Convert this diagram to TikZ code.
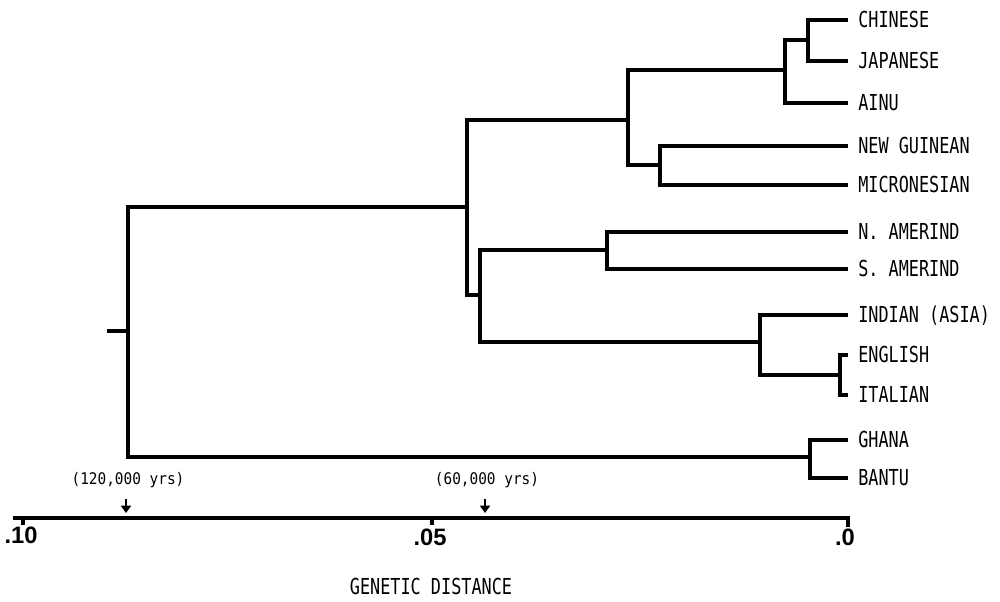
\documentclass[tikz,border=0pt]{standalone}
\usepackage{fontspec}
\usetikzlibrary{arrows.meta}
\newfontfamily\leaffont[FakeStretch=0.765]{DejaVu Sans Mono}
\newfontfamily\notefont[FakeStretch=0.9]{DejaVu Sans Mono}
\newfontfamily\tickfont{Liberation Sans}

\begin{document}
\begin{tikzpicture}[x=0.75pt,y=-0.75pt,
  branch/.style={line width=3.3pt},
  axisline/.style={line width=3.3pt},
  datearrow/.style={line width=2pt,-{Triangle[length=5.5pt,width=7.5pt]}},
  taxon/.style={anchor=base west,inner sep=0pt,
    font={\leaffont\fontsize{16.5}{18}\selectfont}},
  caption/.style={inner sep=0pt,font={\leaffont\fontsize{16.5}{18}\selectfont}},
  note/.style={inner sep=0pt,font={\notefont\fontsize{12}{14}\selectfont}},
  ticklabel/.style={inner sep=0pt,font={\tickfont\bfseries\fontsize{17.8}{20}\selectfont}}]

\useasboundingbox (0,0) rectangle (1000,601);

% ---- leaf tips and taxon labels ----
\foreach \nm/\yy/\txt in {
  chinese/20/CHINESE, japanese/61/JAPANESE, ainu/103/AINU,
  newguinean/146/NEW GUINEAN, micronesian/185/MICRONESIAN,
  namerind/232/{N. AMERIND}, samerind/269/{S. AMERIND},
  indian/315/INDIAN (ASIA), english/355/ENGLISH, italian/395/ITALIAN,
  ghana/440/GHANA, bantu/478/BANTU}{
  \coordinate (t-\nm) at (848,\yy);
  \node[taxon] (l-\nm) at (858,\yy+7) {\txt};
}

% ---- internal nodes (x = distance, y = where the parent line joins) ----
\coordinate (cj)    at (808,40);
\coordinate (cja)   at (785,70);
\coordinate (ngm)   at (660,165);
\coordinate (ocean) at (628,120);
\coordinate (ns)    at (607,250);
\coordinate (ei)    at (840,375);
\coordinate (iei)   at (760,342);
\coordinate (amr)   at (480,295);
\coordinate (nonaf) at (467,207);
\coordinate (gb)    at (810,457);
\coordinate (root)  at (128,331);
\coordinate (stub)  at (107,331);

% ---- branches ----
\draw[branch] (cj) |- (t-chinese);
\draw[branch] (cj) |- (t-japanese);
\draw[branch] (cja) |- (cj);
\draw[branch] (cja) |- (t-ainu);
\draw[branch] (ngm) |- (t-newguinean);
\draw[branch] (ngm) |- (t-micronesian);
\draw[branch] (ocean) |- (cja);
\draw[branch] (ocean) |- (ngm);
\draw[branch] (ns) |- (t-namerind);
\draw[branch] (ns) |- (t-samerind);
\draw[branch] (ei) |- (t-english);
\draw[branch] (ei) |- (t-italian);
\draw[branch] (iei) |- (t-indian);
\draw[branch] (iei) |- (ei);
\draw[branch] (amr) |- (ns);
\draw[branch] (amr) |- (iei);
\draw[branch] (nonaf) |- (ocean);
\draw[branch] (nonaf) |- (amr);
\draw[branch] (gb) |- (t-ghana);
\draw[branch] (gb) |- (t-bantu);
\draw[branch] (root) |- (nonaf);
\draw[branch] (root) |- (gb);
\draw[branch] (stub) -- (root);

% ---- distance axis ----
\coordinate (axL) at (13,518);
\coordinate (axR) at (848,518);
\coordinate (axRend) at (848,527);
\coordinate (tk10) at (23,518);
\coordinate (tk10end) at (23,525);
\coordinate (tk05) at (432,518);
\coordinate (tk05end) at (432,525);
\draw[axisline] (axL) -- (axR) -- (axRend);
\draw[axisline] (tk10) -- (tk10end);
\draw[axisline] (tk05) -- (tk05end);

\node[ticklabel] (lab10) at (21,535) {.10};
\node[ticklabel] (lab05) at (430,537) {.05};
\node[ticklabel] (lab00) at (845,537) {.0};

% ---- dates marked on the axis ----
\node[note] (d120) at (128,480) {(120,000 yrs)};
\node[note] (d60)  at (487,480) {(60,000 yrs)};
\coordinate (a120s) at (126,499);
\coordinate (a120e) at (126,513);
\coordinate (a60s)  at (485,499);
\coordinate (a60e)  at (485,513);
\draw[datearrow] (a120s) -- (a120e);
\draw[datearrow] (a60s) -- (a60e);

\node[caption] (axtitle) at (431,586) {GENETIC DISTANCE};

\end{tikzpicture}
\end{document}
